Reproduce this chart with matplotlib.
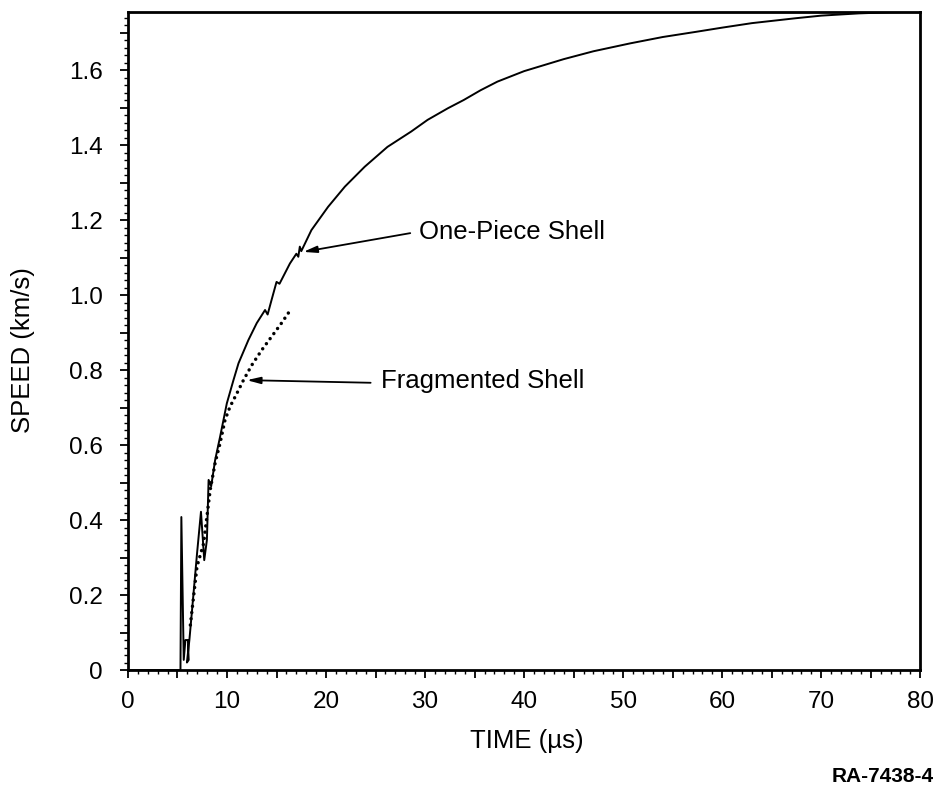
import numpy as np
import matplotlib.pyplot as plt
from matplotlib.ticker import MultipleLocator, FuncFormatter

# One-piece shell (solid curve), time in us, speed in km/s
t_one = [0.0, 5.3, 5.39, 5.63, 5.80, 6.05, 6.13, 5.95, 6.2, 6.47, 6.97, 7.37, 7.7, 7.97,
         8.14, 8.4, 8.8, 9.3, 9.98, 10.65, 11.16, 12.16, 13.0, 13.84, 14.1, 14.5,
         15.0, 15.3, 16.35, 17.0, 17.2, 17.35, 17.5, 18.52, 20.2, 21.9, 23.9,
         26.2, 28.6, 30.25, 32.3, 33.9, 35.6, 37.3, 40.0, 44.0, 47.0, 50.7, 54.0,
         57.4, 60.0, 63.0, 67.4, 70.0, 73.8, 77.0, 79.5]
v_one = [0.0, 0.0, 0.408, 0.027, 0.080, 0.080, 0.027, 0.02, 0.08, 0.16, 0.31, 0.422,
         0.293, 0.347, 0.507, 0.49, 0.56, 0.622, 0.711, 0.773, 0.818, 0.88, 0.925,
         0.96, 0.948, 0.987, 1.035, 1.03, 1.084, 1.11, 1.102, 1.129, 1.117, 1.173,
         1.235, 1.289, 1.342, 1.395, 1.436, 1.467, 1.498, 1.52, 1.546, 1.569,
         1.597, 1.629, 1.650, 1.671, 1.688, 1.702, 1.713, 1.725, 1.738, 1.745,
         1.751, 1.754, 1.755]

# Fragmented shell (dotted curve)
t_frag = [6.3, 6.47, 6.97, 7.64, 7.97, 8.3, 8.8, 9.3, 9.8, 10.3, 11.0, 11.66,
          12.5, 13.5, 14.5, 15.5, 16.45]
v_frag = [0.12, 0.16, 0.276, 0.338, 0.409, 0.48, 0.552, 0.605, 0.667, 0.702,
          0.738, 0.773, 0.813, 0.853, 0.889, 0.925, 0.962]

plt.rcParams['font.family'] = ['Liberation Sans', 'DejaVu Sans']

fig = plt.figure(figsize=(9.41, 7.92), dpi=100)
ax = fig.add_axes([0.136, 0.154, 0.842, 0.831])

ax.plot(t_one, v_one, color='black', lw=1.4)
ax.plot(t_frag, v_frag, color='black', lw=2.5, linestyle=(0, (0.01, 1.8)),
        dash_capstyle='round')

ax.set_xlim(0, 80)
ax.set_ylim(0, 1.755)

ax.xaxis.set_major_locator(MultipleLocator(5))
ax.xaxis.set_minor_locator(MultipleLocator(1))
ax.yaxis.set_major_locator(MultipleLocator(0.1))
ax.yaxis.set_minor_locator(MultipleLocator(0.02))


def xfmt(x, pos):
    return '%d' % round(x) if round(x) % 10 == 0 else ''


def yfmt(y, pos):
    k = int(round(y * 10))
    if k % 2:
        return ''
    return '0' if k == 0 else '%.1f' % y


ax.xaxis.set_major_formatter(FuncFormatter(xfmt))
ax.yaxis.set_major_formatter(FuncFormatter(yfmt))
ax.tick_params(which='major', direction='out', length=6, width=1.3,
               labelsize=17.5, pad=9)
ax.tick_params(which='minor', direction='out', length=3, width=1.0)
ax.tick_params(axis='y', which='major', pad=12)

for s in ax.spines.values():
    s.set_linewidth(2.0)

# annotations
ax.annotate('', xy=(17.7, 1.115), xytext=(28.5, 1.165),
            arrowprops=dict(arrowstyle='-|>,head_length=0.8,head_width=0.2',
                            lw=1.3, color='black', shrinkA=0, shrinkB=0))
ax.text(29.4, 1.168, 'One-Piece Shell', fontsize=18.5, ha='left', va='center')

ax.annotate('', xy=(12.0, 0.773), xytext=(24.5, 0.766),
            arrowprops=dict(arrowstyle='-|>,head_length=0.8,head_width=0.2',
                            lw=1.3, color='black', shrinkA=0, shrinkB=0))
ax.text(25.5, 0.771, 'Fragmented Shell', fontsize=18.5, ha='left', va='center')

fig.text(23 / 941, 1 - 350 / 792, 'SPEED (km/s)', rotation=90, fontsize=18.5,
         ha='center', va='center')
fig.text(527 / 941, 1 - 741 / 792, 'TIME (\u00b5s)', fontsize=18.5,
         ha='center', va='center')
fig.text(883 / 941, 1 - 777 / 792, 'RA-7438-4', fontsize=15,
         fontweight='bold', ha='center', va='center')

fig.savefig('out.png', dpi=100)
